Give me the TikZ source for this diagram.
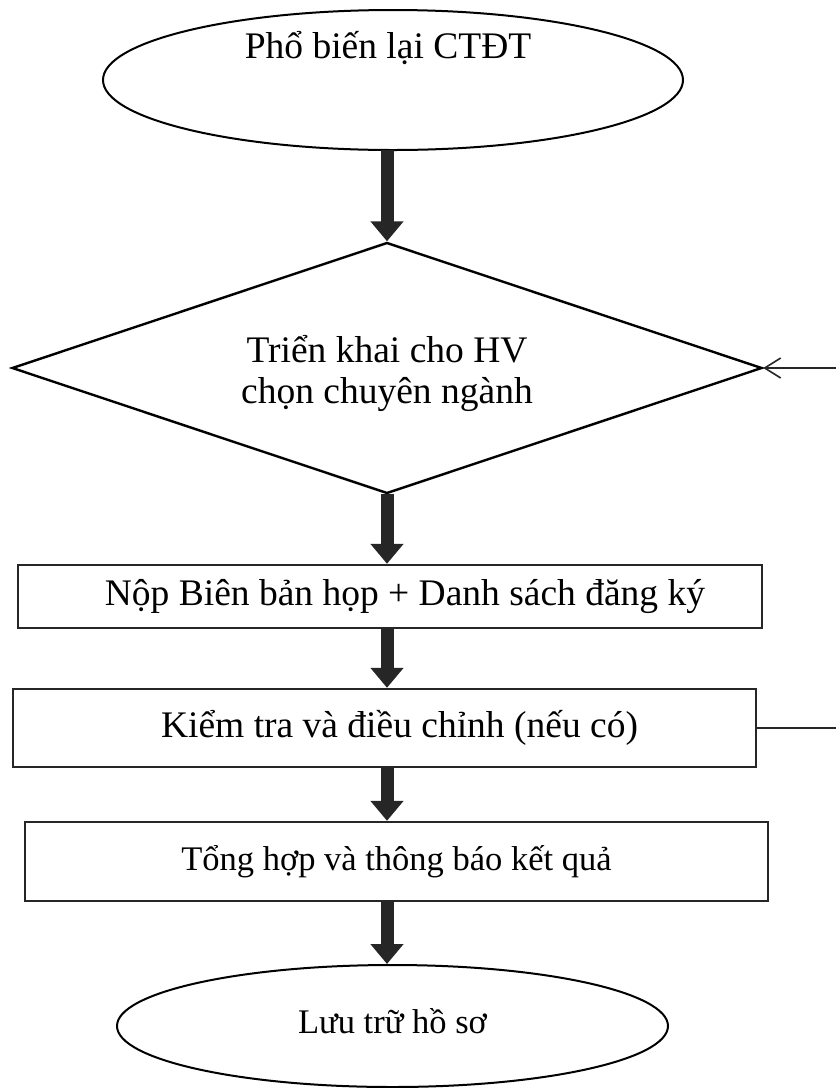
\documentclass[tikz,border=0pt]{standalone}
\usepackage{fontspec}
\setmainfont{Liberation Serif}
\usetikzlibrary{shapes.geometric,arrows.meta}
\begin{document}
\begin{tikzpicture}[x=1pt,y=-1pt,
  every node/.style={font=\fontsize{37.5}{41}\selectfont, text=black},
  smalltext/.style={font=\fontsize{34.5}{40}\selectfont},
  oval/.style={ellipse, draw=black, line width=2pt, inner sep=0pt},
  boxnode/.style={rectangle, draw=black!85, line width=2.4pt, inner sep=0pt},
  decision/.style={diamond, draw=black, line width=2.4pt, inner sep=0pt},
  flow/.style={line width=13pt, draw=black!85, -{Triangle[width=32pt,length=20pt]}, shorten <=-1pt},
  feedback/.style={line width=1.6pt, draw=black!85}
]
\useasboundingbox (0,0) rectangle (836,1088);
\fill[white] (0,0) rectangle (836,1088);

\node[oval, minimum width=580pt, minimum height=140pt,
      label={[xshift=-5pt,yshift=32pt]center:Phổ biến lại CTĐT}] (e1) at (393,80) {};
\node[decision, aspect=2.988, minimum width=750pt, minimum height=251pt,
      label={[yshift=-5pt,align=center]center:Triển khai cho HV\\chọn chuyên ngành}] (d) at (387,368) {};
\node[boxnode, minimum width=744pt, minimum height=63pt,
      label={[xshift=15pt]center:Nộp Biên bản họp + Danh sách đăng ký}] (b1) at (390,596.5) {};
\node[boxnode, minimum width=743pt, minimum height=78pt,
      label={[xshift=15pt]center:Kiểm tra và điều chỉnh (nếu có)}] (b2) at (384.5,728) {};
\node[boxnode, smalltext, minimum width=743pt, minimum height=79pt] (b3) at (396.5,861.5)
      {Tổng hợp và thông báo kết quả};
\node[oval, minimum width=551pt, minimum height=122pt,
      label={[smalltext,yshift=5pt]center:Lưu trữ hồ sơ}] (e2) at (392.5,1026) {};

\coordinate (fb1) at (836,368);
\coordinate (fb2) at (836,728);

\draw[flow] (d.north |- e1.south) -- (d.north);
\draw[flow] (d.south) -- (d.south |- b1.north);
\draw[flow] (d.south |- b1.south) -- (d.south |- b2.north);
\draw[flow] (d.south |- b2.south) -- (d.south |- b3.north);
\draw[flow] (d.south |- b3.south) -- (d.south |- e2.north);

\draw[feedback, -{Straight Barb[length=16pt,width=20pt]}] (fb1) -- (d.east);
\draw[feedback] (b2.east) -- (fb2);
\end{tikzpicture}
\end{document}
